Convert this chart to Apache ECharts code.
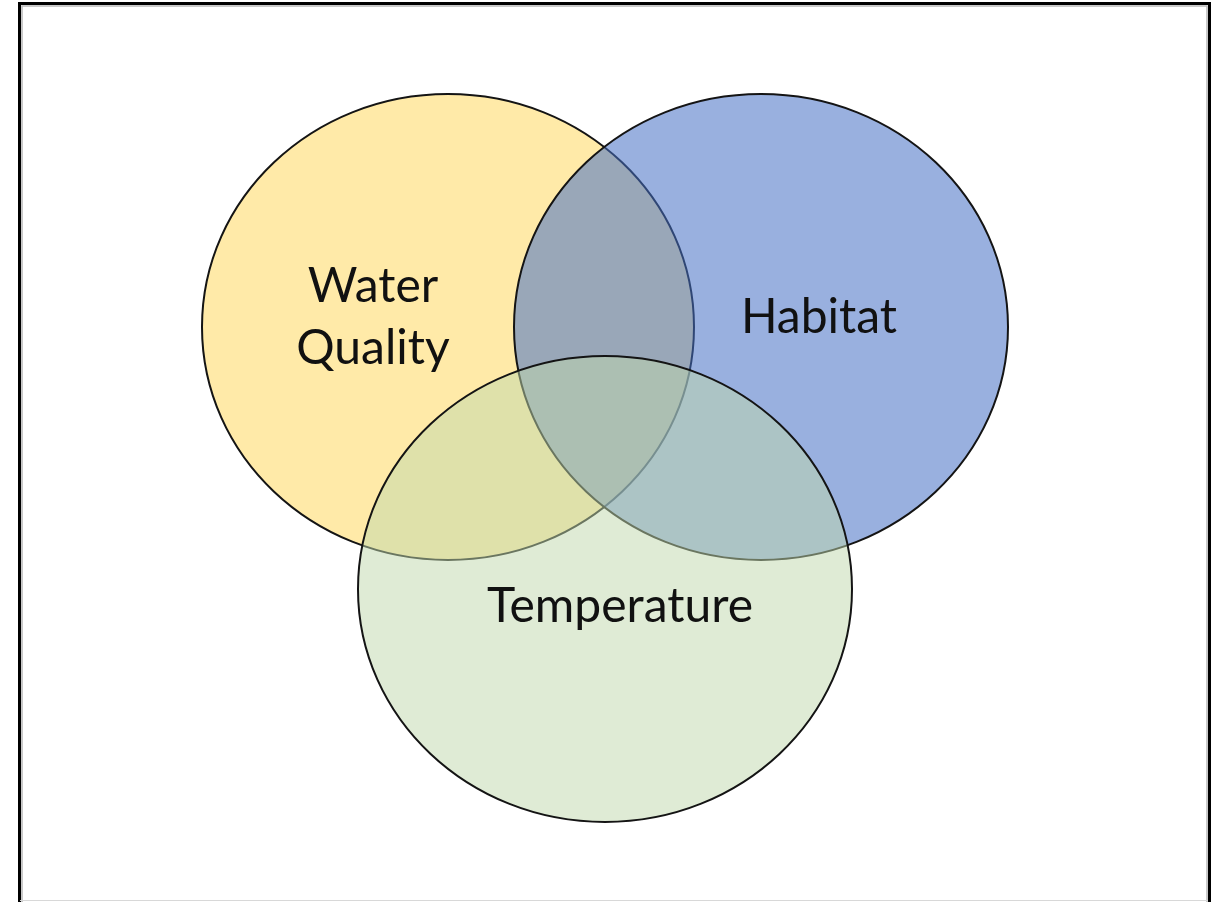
<!DOCTYPE html>
<html>
<head>
<meta charset="utf-8">
<title>Venn</title>
<script src="https://cdn.jsdelivr.net/npm/echarts@6/dist/echarts.min.js"></script>
<style>
  html, body { margin: 0; padding: 0; background: #fff; }
  #chart { width: 1220px; height: 902px; }
</style>
</head>
<body>
<div id="chart"></div>
<script>
// sets, in drawing order (later ones lie on top)
var setNames = ['Water Quality', 'Habitat', 'Temperature']
var centerX = [448, 761, 605]
var centerY = [327, 327, 589]
var radiusX = [246, 247, 247]
var radiusY = [233, 233, 233]
var fillColors = ['rgba(255, 192, 0, 0.34)', 'rgba(70, 112, 196, 0.55)', 'rgba(192, 216, 172, 0.5)']

// label anchor points, same units as the circles
var labelText = ['Water\nQuality', 'Habitat', 'Temperature']
var labelX = [373, 819, 620]
var labelY = [318, 318, 607]

var circleData = setNames.map(function (n, i) {
  return [centerX[i], centerY[i], radiusX[i], radiusY[i], i]
})
var labelData = labelText.map(function (t, i) {
  return [labelX[i], labelY[i], i]
})

var chart = echarts.init(document.getElementById('chart'))

var option = {
  backgroundColor: '#ffffff',
  animation: false,
  grid: { left: 0, right: 0, top: 0, bottom: 0 },
  xAxis: { type: 'value', min: 0, max: 1220, show: false },
  yAxis: { type: 'value', min: 0, max: 902, inverse: true, show: false },
  graphic: [
    // picture frame
    {
      type: 'polyline',
      shape: { points: [[19.5, 902], [19.5, 3.5], [1209.5, 3.5], [1209.5, 902]] },
      style: { fill: null, stroke: '#000', lineWidth: 3 },
      z: 10
    },
    {
      type: 'polyline',
      shape: { points: [[22, 902], [22, 6], [1207, 6], [1207, 902]] },
      style: { fill: null, stroke: '#b8b8b8', lineWidth: 1.5 },
      z: 10
    },
    {
      type: 'line',
      shape: { x1: 20, y1: 900.5, x2: 1208, y2: 900.5 },
      style: { stroke: '#d8d8d8', lineWidth: 1 },
      z: 10
    }
  ],
  series: [
    {
      type: 'custom',
      name: 'sets',
      clip: false,
      data: circleData,
      encode: { x: 0, y: 1 },
      renderItem: function (params, api) {
        var c = api.coord([api.value(0), api.value(1)])
        var rx = api.size([api.value(2), 0])[0]
        var ry = api.size([0, api.value(3)])[1]
        var i = api.value(4)
        return {
          type: 'ellipse',
          shape: { cx: c[0], cy: c[1], rx: rx, ry: ry },
          style: { fill: fillColors[i], stroke: '#141414', lineWidth: 2 }
        }
      },
      z: 2
    },
    {
      type: 'custom',
      name: 'labels',
      clip: false,
      data: labelData,
      encode: { x: 0, y: 1 },
      renderItem: function (params, api) {
        var c = api.coord([api.value(0), api.value(1)])
        var i = api.value(2)
        return {
          type: 'text',
          x: c[0],
          y: c[1],
          style: {
            text: labelText[i],
            fill: '#111',
            font: '48px Lato',
            lineHeight: 62,
            align: 'center',
            verticalAlign: 'middle'
          }
        }
      },
      z: 3
    }
  ]
}

chart.setOption(option)
</script>
</body>
</html>
